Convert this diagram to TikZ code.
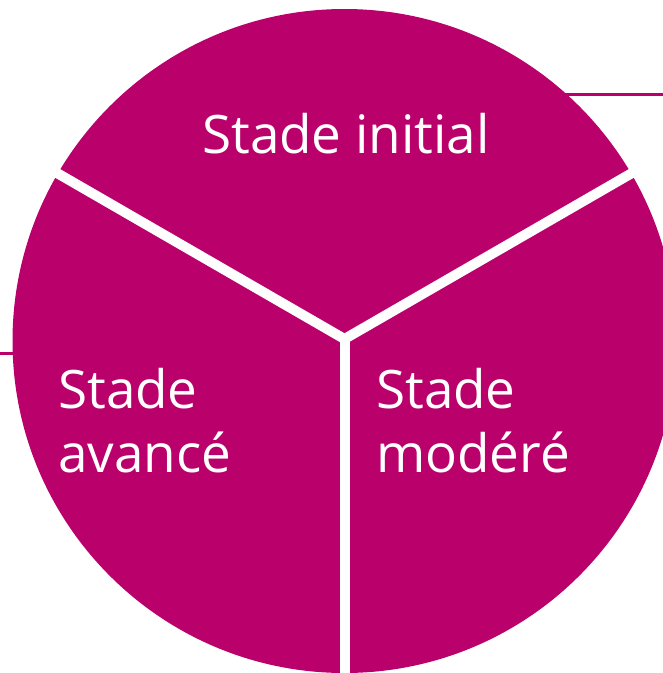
\documentclass[tikz,border=0pt]{standalone}
\usepackage{fontspec}
\setmainfont{Open Sans}
\definecolor{stagemag}{RGB}{186,0,107}
\tikzset{
  stagelabel/.style={text=white, inner sep=0pt, font=\fontsize{53}{64}\selectfont, align=left},
  divider/.style={draw=white, line width=10pt},
  connector/.style={draw=stagemag, line width=3pt}
}
\begin{document}
\begin{tikzpicture}[x=1pt,y={(0pt,-1pt)}]
\useasboundingbox (0,0) rectangle (663,673);
\clip (0,0) rectangle (663,673);
\coordinate (c) at (344.5,341);
\fill[stagemag] (c) circle[radius=332];
\coordinate (j) at (344.5,339);
\coordinate (dl) at (24.5,154.25);
\coordinate (dr) at (664.5,154.25);
\coordinate (db) at (344.5,700);
\draw[divider] (j) -- (dl);
\draw[divider] (j) -- (dr);
\draw[divider] (j) -- (db);
\coordinate (t1) at (563,94);
\coordinate (t2) at (663,94);
\coordinate (l1) at (0,353);
\coordinate (l2) at (13,353);
\draw[connector] (t1) -- (t2);
\draw[connector] (l1) -- (l2);
\node[stagelabel, anchor=base] (init) at (346,153) {Stade initial};
\node[stagelabel, anchor=base west] (avance) at (58,472) {Stade\\avancé};
\node[stagelabel, anchor=base west] (modere) at (376,472) {Stade\\modéré};
\end{tikzpicture}
\end{document}
